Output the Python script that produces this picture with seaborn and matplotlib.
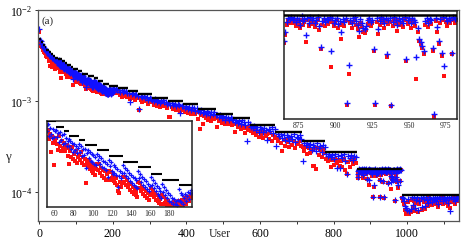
import numpy as np
import pandas as pd
import seaborn as sns
import matplotlib
matplotlib.use("Agg")
import matplotlib.pyplot as plt
from matplotlib.ticker import LogLocator, MultipleLocator, NullLocator, FixedLocator

# staircase (black) : first user of each step and its level, in units of 1e-4
step_start = [0, 6, 10, 15, 20, 26, 32, 38, 44, 52, 62, 70, 75, 86, 92, 105, 117, 132,
              148, 161, 173, 190, 215, 242, 269, 307, 350, 391, 432, 481, 527, 573,
              641, 715, 777, 863, 985]
step_level = [48, 44, 41, 38.5, 36.5, 34.5, 32.5, 31, 29.8, 28.6, 27.0, 25.9, 24.5, 23.4,
              22.2, 21.0, 19.8, 18.6, 17.6, 16.4, 15.3, 14.5, 13.8, 12.8, 11.8, 10.8,
              9.95, 9.16, 8.16, 7.23, 6.43, 5.42, 4.54, 3.60, 2.72, 1.80, 0.92]
last_user = 1140

# users 0-50, every 2nd
users_a = np.arange(0, 52, 2)
blue_a = [61, 47, 45.5, 42.5, 41.8, 40, 39.2, 38.0, 37.1, 36.0, 34.8, 33.9, 33.2, 32.8,
          32.0, 31.2, 30.9, 30.1, 29.5, 29.4, 28.6, 28.1, 28.0, 27.4, 26.9, 26.6]
red_a = [57, 45, 43, 40, 38.8, 37.5, 35.8, 34.6, 33.1, 32.5, 31.2, 29.9, 30.5, 28.8,
         27.6, 24.0, 27.1, 26.2, 23.5, 25.8, 25.0, 22.1, 24.6, 23.9, 23.4, 22.8]

# users 52-203, every user (lower-left inset)
users_b = np.arange(52, 204)
blue_b = [27.4, 25.9, 27.8, 24.6, 26.8, 25.1, 23.9, 26.5, 24.3, 25.7,
          26.0, 24.2, 25.3, 22.9, 25.6, 23.4, 24.8, 22.6,
          24.9, 22.8, 24.1, 21.9, 23.3,
          23.7, 22.1, 23.2, 21.3, 22.8, 20.7, 22.5, 21.0, 22.1, 20.4, 21.6,
          22.5, 20.6, 21.9, 19.8, 21.4, 20.1,
          21.4, 17.4, 20.4, 21.1, 19.3, 20.7, 18.8, 20.3, 18.5, 19.9, 18.2, 19.6, 17.9,
          20.2, 18.9, 19.7, 18.1, 19.4, 17.6, 18.8, 17.4, 18.5, 17.0, 18.1, 15.9,
          19.0, 17.8, 18.5, 16.9, 16.4, 17.9, 16.6, 17.6, 16.2, 17.2, 14.3, 16.0, 16.9, 15.6, 16.5,
          17.9, 16.6, 17.4, 16.0, 17.0, 15.6, 16.6, 15.2, 16.2, 14.9, 15.9, 14.6, 15.6, 14.3, 15.3, 14.1,
          16.9, 15.6, 16.4, 15.0, 15.9, 14.6, 15.5, 14.2, 15.1, 13.9, 14.7, 13.6, 14.4,
          15.8, 14.6, 15.3, 14.0, 14.8, 13.6, 14.4, 13.2, 14.0, 12.9, 13.7, 12.7,
          14.7, 13.5, 14.2, 13.0, 13.8, 12.6, 13.4, 12.3, 13.0, 12.1, 12.7, 11.9, 12.5, 11.9, 12.3, 11.8, 12.4,
          13.9, 12.3, 13.4, 12.1, 13.0, 11.9, 12.6, 13.2, 12.2, 12.9, 13.5, 12.5, 13.4, 13.8]
red_b = [25.8, 24.2, 26.1, 23.6, 25.0, 20.6, 24.4, 22.8, 17.9, 23.3,
         23.9, 22.4, 21.2, 24.5, 22.0, 20.8, 23.1, 21.6,
         22.7, 20.9, 21.7, 22.3, 19.8,
         21.5, 18.1, 20.8, 19.6, 21.7, 19.1, 20.3, 18.7, 20.9, 18.4, 19.6,
         20.1, 18.9, 20.6, 18.3, 19.5, 17.9,
         19.2, 14.8, 18.6, 17.7, 19.0, 17.2, 18.4, 16.9, 17.9, 16.6, 17.5, 16.2, 17.3,
         18.1, 17.0, 18.2, 16.5, 17.5, 16.0, 17.1, 15.7, 16.8, 15.4, 16.4, 15.3,
         16.9, 15.4, 16.7, 15.7, 16.3, 15.1, 15.9, 14.8, 15.6, 14.6, 13.7, 13.3, 15.0, 14.2, 14.9,
         15.9, 15.0, 15.8, 14.6, 15.3, 14.2, 14.9, 13.8, 14.7, 13.5, 14.3, 13.2, 14.0, 13.0, 13.7, 12.8,
         15.0, 14.1, 14.8, 13.6, 14.3, 13.2, 13.9, 12.9, 13.6, 12.6, 13.3, 12.4, 13.0,
         14.0, 13.2, 13.8, 12.8, 13.4, 12.4, 13.0, 12.2, 12.7, 12.0, 12.5, 11.9,
         13.0, 11.9, 12.8, 12.0, 12.5, 11.8, 12.2, 11.9, 12.0, 11.8, 11.9, 11.8, 12.1, 11.7, 11.9, 11.8, 12.0,
         12.2, 11.8, 12.0, 11.9, 12.4, 11.8, 12.1, 12.6, 11.9, 12.3, 12.8, 12.2, 12.7, 13.0]

# users 204-860, every 4th
users_c = np.arange(204, 861, 4)
blue_c = [13.3, 13.6, 13.1,
          13.0, 12.6, 13.2, 12.4, 12.9, 12.7, 12.2,
          12.1, 9.6, 11.8, 12.3, 11.5, 12.0, 11.3,
          8.2, 11.2, 10.9, 11.4, 10.6, 11.1, 10.3, 10.8, 10.5,
          10.3, 10.0, 10.4, 9.7, 10.1, 9.4, 9.9, 10.2, 9.6, 9.8, 9.3,
          9.4, 9.1, 9.5, 8.9, 9.2, 8.7, 9.3, 9.0, 7.3, 8.8,
          8.7, 8.4, 8.8, 8.2, 8.6, 8.0, 8.5, 8.3, 7.8, 8.4,
          7.8, 7.5, 7.9, 7.3, 7.6, 7.1, 7.7, 7.4, 6.9, 7.5, 7.2, 7.6, 7.0,
          6.9, 6.6, 6.95, 6.4, 6.8, 6.2, 6.7, 6.5, 6.1, 6.6, 6.3,
          6.15, 5.9, 6.2, 5.7, 6.0, 5.5, 6.1, 5.8, 5.4, 3.6, 5.9, 5.6,
          5.2, 5.0, 5.25, 4.8, 5.1, 4.6, 5.15, 4.9, 4.5, 5.05, 4.75, 3.75, 4.95, 4.7, 5.1, 4.4, 4.85,
          3.16, 4.3, 4.1, 4.35, 3.9, 4.2, 3.7, 4.25, 4.0, 3.6, 4.15, 3.85, 4.3, 3.5, 4.05, 3.9, 4.2, 3.8,
          2.16, 3.4, 3.25, 3.45, 3.1, 3.35, 2.9, 3.3, 3.15, 2.8, 3.4, 3.05, 3.2, 2.75, 3.3, 3.1,
          2.6, 2.5, 2.62, 2.4, 2.55, 2.3, 2.58, 1.85, 2.45, 1.85, 2.52, 2.35, 2.6, 2.2, 1.57,
          2.48, 2.38, 2.55, 2.25, 2.5, 2.42]
red_c = [12.6, 12.9, 12.3,
         12.1, 11.6, 10.9, 12.0, 11.3, 11.8, 11.0,
         11.2, 10.4, 10.8, 11.4, 10.2, 11.0, 10.6,
         8.0, 10.3, 9.6, 10.6, 9.9, 10.2, 9.3, 10.0, 9.7,
         9.6, 9.1, 9.5, 8.8, 9.3, 8.5, 9.0, 9.4, 8.7, 8.9, 8.4,
         6.6, 6.7, 8.6, 8.1, 8.5, 7.9, 8.3, 8.0, 7.6, 8.2,
         8.0, 7.6, 8.1, 7.4, 7.9, 7.2, 7.7, 7.5, 7.1, 7.6,
         6.3, 4.9, 7.0, 5.5, 6.8, 6.4, 6.9, 6.2, 6.6, 6.0, 6.7, 6.3, 6.5,
         5.2, 6.0, 6.3, 5.7, 6.1, 5.5, 5.9, 6.2, 5.6, 5.8, 5.4,
         5.5, 4.6, 5.6, 5.1, 5.4, 4.9, 5.3, 5.0, 4.4, 5.2, 4.8, 5.1,
         4.7, 4.4, 4.8, 4.2, 4.6, 4.0, 4.5, 4.3, 3.9, 4.55, 4.1, 4.35, 3.8, 4.45, 3.6, 4.2, 4.0,
         3.9, 3.6, 3.95, 3.4, 2.8, 3.7, 3.2, 3.8, 3.5, 3.1, 3.75, 3.3, 3.6, 3.0, 3.33, 3.45, 3.65, 3.2,
         3.1, 2.8, 3.15, 2.6, 3.0, 2.7, 2.9, 1.95, 1.95, 1.8, 3.05, 2.55, 2.85, 2.4, 2.95, 2.7,
         2.3, 2.2, 2.35, 1.9, 2.25, 2.0, 2.3, 2.1, 2.25, 1.95, 2.2, 1.9, 2.28, 1.75, 1.57,
         2.15, 1.9, 2.22, 2.05, 2.3, 2.1]

# users 865-982, every user (upper-right inset)
users_d = np.arange(865, 983)
blue_d = [1.46, 1.57, 1.70, 1.76, 1.74, 1.77, 1.72, 1.75, 1.70, 1.76,
          1.73, 1.66, 1.78, 1.71, 1.74, 1.53, 1.76, 1.69, 1.77, 1.72,
          1.75, 1.68, 1.73, 1.77, 1.64, 1.39, 1.71, 1.76, 1.70, 1.74,
          1.72, 1.77, 1.34, 1.75, 1.69, 1.73, 1.76, 1.67, 1.71, 1.57,
          1.74, 1.70, 1.76, 0.88, 1.20, 1.73, 1.68, 1.75, 1.77, 1.71,
          1.66, 1.58, 1.74, 1.69, 1.62, 1.60, 1.64, 1.72, 1.76, 1.70,
          1.73, 1.36, 0.88, 1.75, 1.61, 1.71, 1.77, 1.74, 1.68, 1.76,
          1.31, 1.72, 1.75, 0.87, 1.70, 1.77, 1.73, 1.66, 1.76, 1.71,
          1.74, 1.69, 1.77, 1.26, 1.72, 1.75, 1.68, 1.76, 1.73, 1.70,
          1.28, 1.62, 1.48, 1.45, 1.40, 1.34, 1.71, 1.75, 1.69, 1.74,
          1.72, 1.38, 0.81, 1.76, 1.63, 1.46, 1.74, 1.32, 1.77, 1.19,
          1.75, 1.71, 1.76, 1.73, 1.32, 1.77, 1.74, 1.76]
red_d = [1.43, 1.53, 1.66, 1.72, 1.69, 1.72, 1.68, 1.70, 1.64, 1.71,
         1.68, 1.62, 1.73, 1.66, 1.70, 1.44, 1.72, 1.64, 1.73, 1.67,
         1.70, 1.63, 1.68, 1.73, 1.59, 1.37, 1.66, 1.72, 1.65, 1.69,
         1.67, 1.73, 1.18, 1.70, 1.64, 1.68, 1.72, 1.62, 1.66, 1.48,
         1.69, 1.65, 1.72, 0.87, 1.12, 1.68, 1.62, 1.70, 1.73, 1.66,
         1.60, 1.50, 1.69, 1.63, 1.57, 1.55, 1.59, 1.67, 1.72, 1.65,
         1.68, 1.34, 0.87, 1.70, 1.54, 1.66, 1.73, 1.69, 1.62, 1.71,
         1.28, 1.67, 1.70, 0.86, 1.65, 1.72, 1.68, 1.58, 1.71, 1.66,
         1.69, 1.63, 1.73, 1.24, 1.67, 1.70, 1.62, 1.71, 1.68, 1.64,
         1.07, 1.56, 1.46, 1.42, 1.38, 1.31, 1.66, 1.70, 1.63, 1.69,
         1.67, 1.34, 0.79, 1.71, 1.57, 1.42, 1.69, 1.29, 1.72, 1.10,
         1.70, 1.65, 1.72, 1.68, 1.31, 1.73, 1.69, 1.72]

# users 985-1138, every 3rd
users_e = np.arange(985, 1139, 3)
blue_e = [0.89, 0.86, 0.80, 0.70, 0.66, 0.63, 0.84, 0.62, 0.65, 0.88,
          0.72, 0.85, 0.67, 0.82, 0.87, 0.64, 0.79, 0.86, 0.68, 0.88,
          0.83, 0.70, 0.87, 0.81, 0.75, 0.89, 0.84, 0.78, 0.86, 0.82,
          0.88, 0.80, 0.85, 0.74, 0.87, 0.83, 0.89, 0.79, 0.86, 0.84,
          0.81, 0.88, 0.76, 0.85, 0.62, 0.87, 0.83, 0.89, 0.80, 0.86,
          0.85, 0.88]
red_e = [0.85, 0.80, 0.74, 0.64, 0.58, 0.60, 0.78, 0.57, 0.61, 0.82,
         0.66, 0.79, 0.62, 0.76, 0.83, 0.60, 0.73, 0.81, 0.64, 0.84,
         0.78, 0.65, 0.82, 0.75, 0.70, 0.85, 0.79, 0.72, 0.81, 0.77,
         0.84, 0.74, 0.80, 0.69, 0.83, 0.77, 0.85, 0.73, 0.82, 0.79,
         0.76, 0.84, 0.71, 0.80, 0.66, 0.83, 0.78, 0.85, 0.74, 0.82,
         0.80, 0.84]

df = pd.DataFrame({
    "user": np.concatenate([users_a, users_b, users_c, users_d, users_e]),
    "blue": np.concatenate([blue_a, blue_b, blue_c, blue_d, blue_e]) * 1e-4,
    "red": np.concatenate([red_a, red_b, red_c, red_d, red_e]) * 1e-4,
})
steps = pd.DataFrame({"start": step_start,
                      "end": step_start[1:] + [last_user],
                      "level": np.array(step_level) * 1e-4})

sns.set_theme(style="white")
plt.rcParams["font.family"] = ["Liberation Serif", "DejaVu Serif"]
plt.rcParams["mathtext.fontset"] = "custom"
plt.rcParams["mathtext.rm"] = "Liberation Serif"
plt.rcParams["mathtext.it"] = "Liberation Serif:italic"


def draw(ax, d, st, s_red, s_blue, lw_step, lw_plus=0.9):
    sns.scatterplot(data=d, x="user", y="red", marker="s", s=s_red, color="#ff1010",
                    linewidth=0, ax=ax, legend=False, zorder=2)
    sns.scatterplot(data=d, x="user", y="blue", marker="+", s=s_blue, color="#1010ff",
                    linewidth=lw_plus, ax=ax, legend=False, zorder=2.5)
    ax.hlines(st["level"], st["start"], st["end"], colors="black", lw=lw_step, zorder=3)
    ax.set_yscale("log")
    ax.set_xlabel("")
    ax.set_ylabel("")


fig = plt.figure(figsize=(4.63, 2.53), dpi=100)

# main panel
ax = fig.add_axes([0.082, 0.1225, 0.909, 0.8355])
draw(ax, df, steps, 7, 14, 1.7)
ax.set_xlim(-3, 1140)
ax.set_ylim(4.8e-5, 1e-2)
ax.xaxis.set_major_locator(FixedLocator([0, 200, 400, 600, 800, 1000]))
ax.xaxis.set_minor_locator(MultipleLocator(100))
ax.yaxis.set_major_locator(LogLocator(base=10, numticks=6))
ax.yaxis.set_minor_locator(NullLocator())
ax.tick_params(axis="both", which="both", direction="out", length=2.5, width=0.7,
               labelsize=8.5, pad=1.5, bottom=True, left=True, colors="#333333",
               labelcolor="black")
for sp in ax.spines.values():
    sp.set_color("#555555")
    sp.set_linewidth(0.9)
ax.text(0.008, 0.95, "(a)", transform=ax.transAxes, fontsize=8, va="center", ha="left")
fig.text(0.475, 0.075, "User", fontsize=8.5, ha="center", va="center")
fig.text(0.018, 0.38, "γ", fontsize=9.5, ha="center", va="center")

# upper-right inset
d1 = df[(df["user"] >= 865) & (df["user"] <= 983)]
ax1 = fig.add_axes([0.613, 0.526, 0.374, 0.425])
draw(ax1, d1, steps, 10, 20, 1.8, 1.0)
ax1.set_xlim(865, 982.5)
ax1.set_ylim(0.776e-4, 1.85e-4)
ax1.xaxis.set_major_locator(FixedLocator([875, 900, 925, 950, 975]))
ax1.yaxis.set_major_locator(NullLocator())
ax1.yaxis.set_minor_locator(NullLocator())
ax1.tick_params(axis="x", labelsize=5.5, length=0, pad=1.5)

# lower-left inset
d2 = df[(df["user"] >= 52) & (df["user"] <= 204)]
ax2 = fig.add_axes([0.1015, 0.178, 0.3132, 0.34])
draw(ax2, d2, steps, 6, 12, 1.5)
ax2.set_xlim(52.5, 204)
ax2.set_ylim(11.5e-4, 28.75e-4)
ax2.xaxis.set_major_locator(FixedLocator([60, 80, 100, 120, 140, 160, 180]))
ax2.yaxis.set_major_locator(NullLocator())
ax2.yaxis.set_minor_locator(NullLocator())
ax2.tick_params(axis="x", labelsize=5.5, length=0, pad=1.5)

for a in (ax1, ax2):
    a.set_facecolor("white")
    for sp in a.spines.values():
        sp.set_color("#222222")
        sp.set_linewidth(1.1)

fig.savefig("out.png", dpi=100)
